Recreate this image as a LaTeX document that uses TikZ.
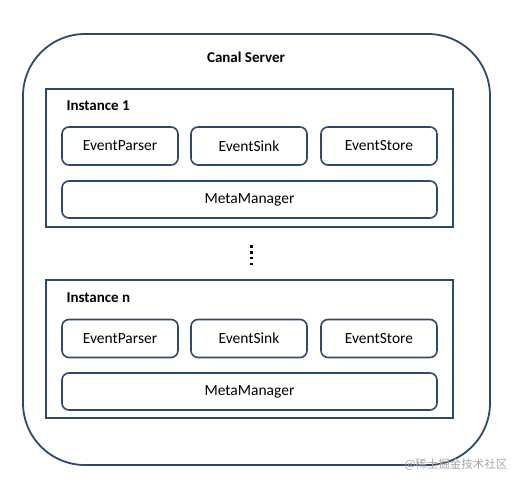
\documentclass[tikz,border=0pt]{standalone}
\usepackage{fontspec}
\setmainfont{Carlito}
\newfontfamily\cjkfont{Noto Sans CJK SC}
\definecolor{navy}{HTML}{2E4A6B}
\tikzset{
  part/.style={draw=navy,line width=1.6pt,rounded corners=7pt,minimum height=38pt,inner sep=0pt,font=\fontsize{15.5}{17}\selectfont},
  instbox/.style={draw=navy,line width=1.6pt,minimum width=407pt,minimum height=138pt,inner sep=0pt},
  instlabel/.style={anchor=west,font=\bfseries\fontsize{15}{17}\selectfont},
  dot/.style={fill=black,minimum size=2.6pt,inner sep=0pt}
}
\begin{document}
\begin{tikzpicture}[x=1pt,y=-1pt]
   \useasboundingbox (0,0) rectangle (519,485);
   % server
   \node (server) at (256.5,249.5) [draw=navy,line width=1.8pt,rounded corners=62pt,minimum width=467pt,minimum height=431pt] {};
   \node (serverlabel) at (246,57.5) [font=\bfseries\fontsize{15}{17}\selectfont] {Canal Server};
   % instance 1
   \node (inst1) at (249.5,158) [instbox] {};
   \node (inst1label) at (63,105.5) [instlabel] {Instance 1};
   \node (parser1) at (120,146) [part,minimum width=116pt] {EventParser};
   \node (sink1) at (249,146) [part,minimum width=116pt] {EventSink};
   \node (store1) at (379,146) [part,minimum width=116pt] {EventStore};
   \node (meta1) at (249.5,199.5) [part,minimum width=375pt,minimum height=37pt] {MetaManager};
   % dots
   \node (dota) at (251.3,246.7) [dot] {};
   \node (dotb) at (251.3,252.4) [dot] {};
   \node (dotc) at (251.3,258.1) [dot] {};
   \node (dotd) at (251.3,263.8) [dot] {};
   % instance n
   \node (instn) at (249.5,349) [instbox] {};
   \node (instnlabel) at (63,297.5) [instlabel] {Instance n};
   \node (parsern) at (120,338.5) [part,minimum width=116pt] {EventParser};
   \node (sinkn) at (249,338.5) [part,minimum width=116pt] {EventSink};
   \node (storen) at (379,338.5) [part,minimum width=116pt] {EventStore};
   \node (metan) at (249.5,391.5) [part,minimum width=375pt,minimum height=37pt] {MetaManager};
   % watermark
   \node (mark) at (456,464.5) [text=black!35,font=\cjkfont\fontsize{11.5}{13}\selectfont] {@稀土掘金技术社区};
\end{tikzpicture}
\end{document}
